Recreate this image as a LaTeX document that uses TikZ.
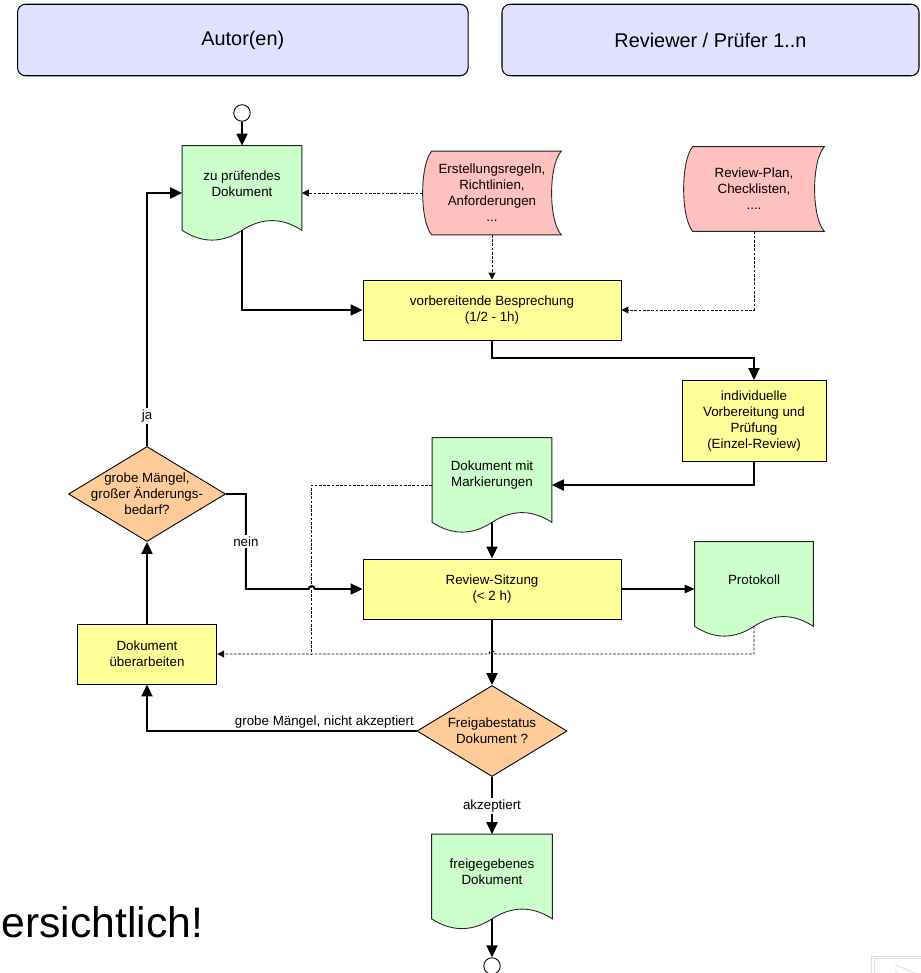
\documentclass[tikz,border=0pt]{standalone}
\usepackage{fontspec}
\setmainfont{Liberation Sans}
\usetikzlibrary{arrows.meta, shapes.geometric}
\pgfdeclarelayer{bg}
\pgfsetlayers{bg,main}
\definecolor{headblue}{HTML}{E0E0FF}
\definecolor{docgreen}{HTML}{CCFFCC}
\definecolor{rulepink}{HTML}{FFC0C0}
\definecolor{stepyellow}{HTML}{FFFF99}
\definecolor{askorange}{HTML}{FFCC99}
\tikzset{
    every node/.style={font=\fontsize{7.6}{9.1}\selectfont},
    head/.style={draw, rounded corners=1.6mm, fill=headblue, line width=0.6pt,
    	font=\fontsize{11.3}{13}\selectfont},
    proc/.style={draw, fill=stepyellow, align=center, inner sep=0, line width=0.5pt},
    doc/.style={minimum width=23.8mm, minimum height=18.8mm, inner sep=0},
    store/.style={minimum height=16.6mm, inner sep=0},
    ask/.style={diamond, draw, fill=askorange, inner sep=0, line width=0.5pt},
    term/.style={circle, draw, fill=white, minimum size=3.3mm, inner sep=0, line width=0.5pt},
    txt/.style={align=center, inner sep=0},
    lbl/.style={fill=white, inner sep=1pt},
    flow/.style={line width=1.1pt, -{Triangle[length=2.4mm, width=2.2mm]}},
    sideflow/.style={line width=0.6pt, -{Triangle[length=2mm, width=1.7mm]}},
    info/.style={draw=black!95, line width=0.55pt, dash pattern=on 0.55mm off 0.3mm,
    	-{Triangle[length=1.4mm, width=1.4mm]}},
    navgray/.style={draw=black!12, line width=0.5pt}
}
\newcommand{\docwave}[2]{%
  \begin{pgfonlayer}{bg}
    \path[draw=black!85, line width=0.5pt, fill=#2] (#1.north west) -- (#1.north east)
      -- ([yshift=2mm]#1.south east)
      .. controls +(-20,-13) and +(20,-13) .. ([yshift=2mm]#1.south)
      .. controls +(-20,13) and +(20,13) .. ([yshift=2mm]#1.south west) -- cycle;
  \end{pgfonlayer}}
\newcommand{\storedata}[2]{%
  \begin{pgfonlayer}{bg}
    \path[draw=black!85, line width=0.5pt, fill=#2] ([xshift=1.8mm]#1.north west) -- (#1.north east)
      .. controls +(-13,14) and +(-13,-14) .. (#1.south east)
      -- ([xshift=1.8mm]#1.south west)
      .. controls +(-12,-14) and +(-12,14) .. ([xshift=1.8mm]#1.north west) -- cycle;
  \end{pgfonlayer}}

\begin{document}
\begin{tikzpicture}[x=0.2mm, y=-0.2mm]
	\useasboundingbox (0,0) rectangle (920,973);

	\node[head, minimum width=90.1mm, minimum height=14.3mm] (autor) at (242.8,40) {Autor(en)};
	\node[head, minimum width=83.4mm, minimum height=14.3mm] (reviewer) at (710.5,40) {Reviewer / Prüfer 1..n};

	\node[term] (start) at (242,113) {};
	\node[doc, label={[txt, yshift=1.9mm]center:{zu prüfendes\\Dokument}}] (pruef) at (242,193) {};
	\node[store, minimum width=27.6mm, label={[txt]center:{Erstellungsregeln,\\Richtlinien,\\Anforderungen\\...}}] (regeln) at (492,193) {};
	\node[store, minimum width=28mm, minimum height=16.8mm, label={[txt]center:{Review-Plan,\\Checklisten,\\....}}] (plan) at (754,189) {};
	\node[proc, minimum width=51.6mm, minimum height=12mm] (bespr) at (492,310) {vorbereitende Besprechung\\(1/2 - 1h)};
	\node[proc, minimum width=28.8mm, minimum height=16.2mm] (einzel) at (754,421) {individuelle\\Vorbereitung und\\Prüfung\\(Einzel-Review)};
	\node[doc, label={[txt, yshift=1.9mm]center:{Dokument mit\\Markierungen}}] (markiert) at (492,485) {};
	\node[ask, minimum width=31.4mm, minimum height=19mm, label={[txt]center:{grobe Mängel,\\großer Änderungs-\\bedarf?}}] (grob) at (147,494) {};
	\node[proc, minimum width=51.6mm, minimum height=12mm] (sitzung) at (492,589) {Review-Sitzung\\(< 2 h)};
	\node[doc, minimum width=23.6mm, label={[txt, yshift=1.9mm]center:{Protokoll}}] (protokoll) at (754,589) {};
	\node[proc, minimum width=27.9mm, minimum height=12mm] (ueber) at (147,654) {Dokument\\überarbeiten};
	\node[ask, minimum width=30mm, minimum height=18.2mm, label={[txt]center:{Freigabestatus\\Dokument ?}}] (frei) at (492,731) {};
	\node[doc, minimum width=24mm, label={[txt, yshift=1.9mm]center:{freigegebenes\\Dokument}}] (fertig) at (492,881.5) {};
	\node[term] (ende) at (492,966) {};
	\node[anchor=base west, inner sep=0, font=\fontsize{24.3}{29}\selectfont] (rest) at (1,937) {ersichtlich!};
	\coordinate (knick) at (311.7,654);

	\docwave{pruef}{docgreen} \docwave{markiert}{docgreen}
	\docwave{protokoll}{docgreen} \docwave{fertig}{docgreen}
	\storedata{regeln}{rulepink} \storedata{plan}{rulepink}

	\draw[flow] (start) -- (pruef);
	\draw[info] (regeln) -- (pruef);
	\draw[info] (regeln) -- (bespr);
	\draw[info] (plan) |- (bespr);
	\draw[flow] ([yshift=2mm]pruef.south) |- (bespr);
	\draw[flow] (bespr.south) -- ++(0,18) -| (einzel);
	\draw[flow] (einzel) |- (markiert);
	\draw[flow] ([yshift=2mm]markiert.south) -- (sitzung);
	\draw[sideflow] (sitzung) -- (protokoll);
	\draw[info] ([yshift=2mm]protokoll.south) |- ([xshift=0.6mm]sitzung.south |- ueber.east)
		arc[start angle=0, end angle=180, radius=0.6mm] -- (ueber.east);
	\draw[info, -] (markiert) -| (knick);
	\draw[flow] (grob.east) -- ++(20,0) |- node[lbl, pos=0.25] {nein} ([xshift=-0.6mm]knick |- sitzung.west)
		arc[start angle=180, end angle=0, radius=0.6mm] -- (sitzung.west);
	\draw[flow] (grob) |- node[lbl, pos=0.06] {ja} (pruef);
	\draw[flow] (ueber) -- (grob);
	\draw[flow] (sitzung) -- (frei);
	\draw[flow] (frei) -| node[pos=0, anchor=south east, inner sep=1pt] {grobe Mängel, nicht akzeptiert} (ueber);
	\draw[flow] (frei) -- node[lbl] {akzeptiert} (fertig);
	\draw[flow] ([yshift=2mm]fertig.south) -- (ende);

	\draw[navgray] (871.7,985) |- (930,956);
	\draw[navgray] (874.5,985) |- (930,958.5);
	\draw[navgray] (896,985) -- (896,965) -- (930,980);
\end{tikzpicture}
\end{document}
